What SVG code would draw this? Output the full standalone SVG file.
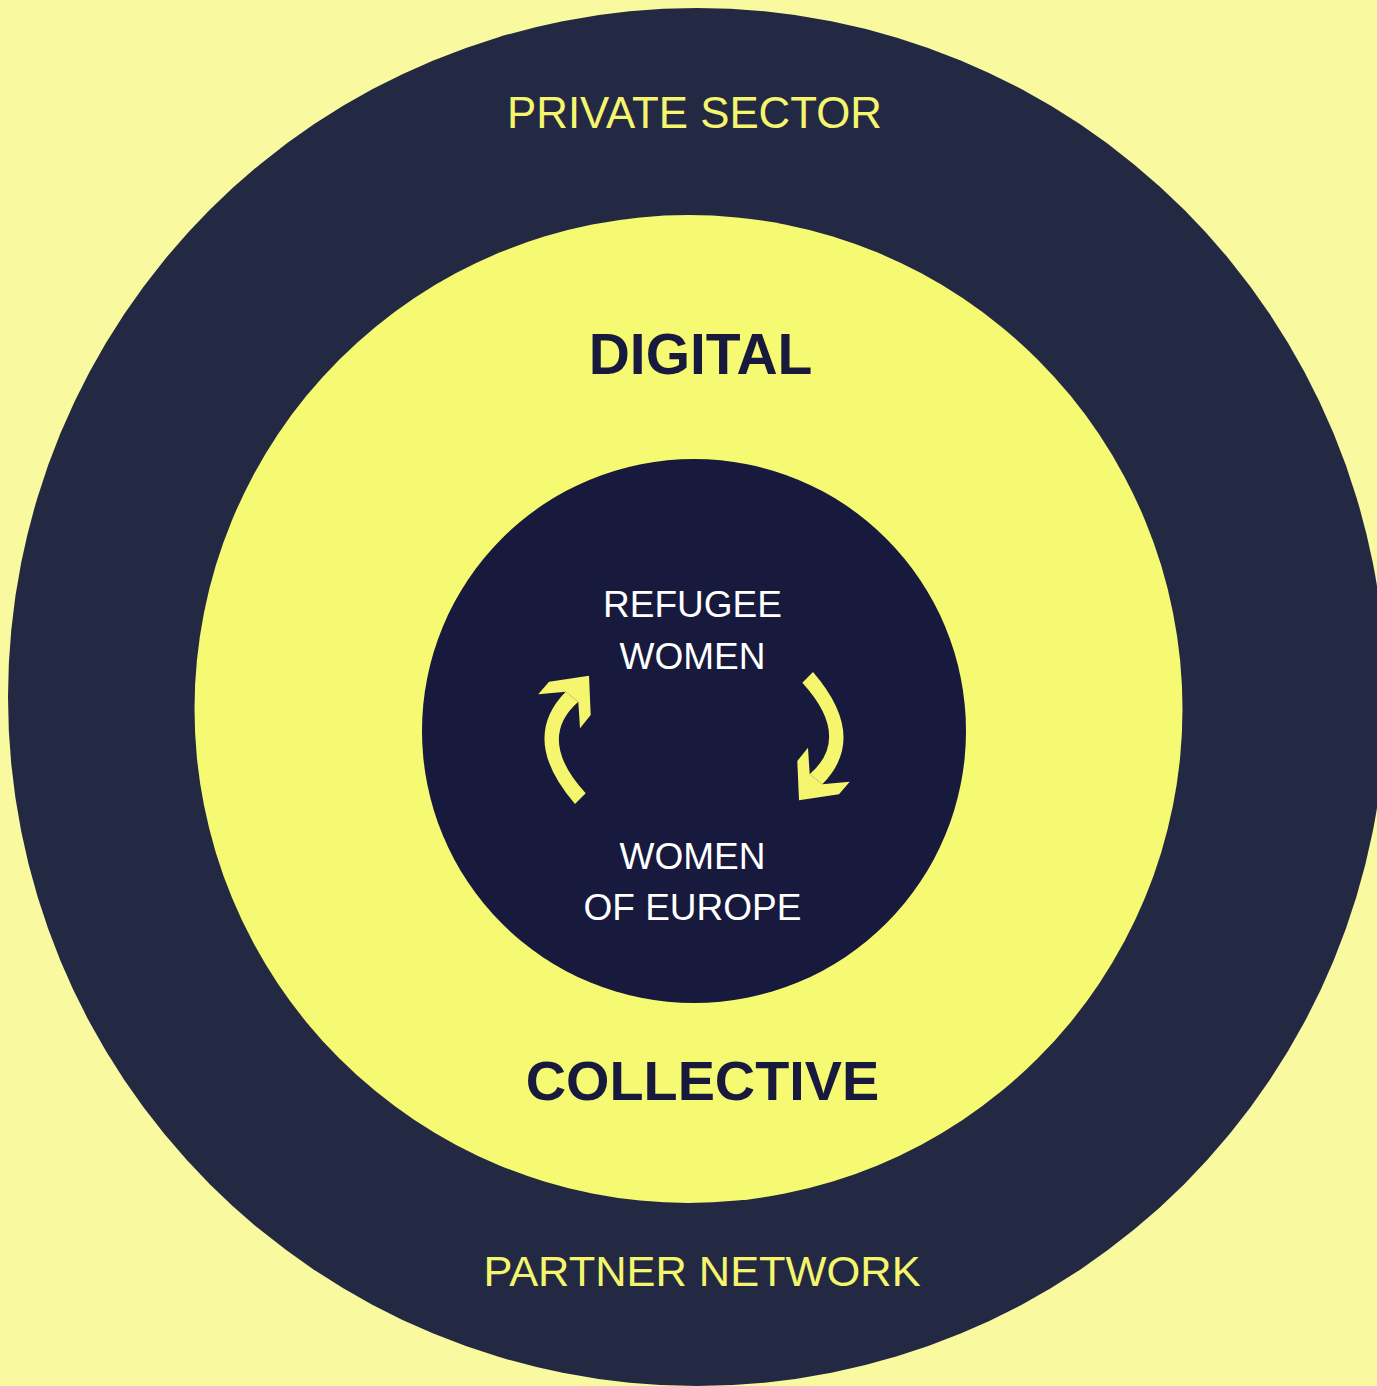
<svg xmlns="http://www.w3.org/2000/svg" xmlns:xlink="http://www.w3.org/1999/xlink" width="1377" height="1386" viewBox="0 0 1377 1386">
<style>
.ring-label{font-family:"Liberation Sans",Arial,sans-serif;fill:#F6F56E;text-anchor:middle}
.big{font-family:"Liberation Sans",Arial,sans-serif;font-weight:bold;fill:#171A3D;text-anchor:middle}
.core{font-family:"Liberation Sans",Arial,sans-serif;font-size:37px;fill:#FFFFFF;text-anchor:middle}
.arrow{fill:#F6F56E}
</style>
<defs>
<g id="curved-arrow">
<path class="arrow" d="M565.7,691.7 Q519,739 575,804 L585.7,793.3 Q536,739 578.3,701.7 Z"/>
<polygon class="arrow" points="538.3,694.3 549,681.7 589,675.7 590.7,715 580,728.3 578.3,701.7 565.7,691.7"/>
</g>
</defs>
<rect id="background" x="0" y="0" width="1377" height="1386" fill="#F9F9A0"/>
<g id="private-sector">
<circle cx="697" cy="697" r="689" fill="#242943"/>
<text class="ring-label" x="694.5" y="128" font-size="43.8">PRIVATE SECTOR</text>
<text class="ring-label" x="702" y="1286" font-size="43.4">PARTNER NETWORK</text>
</g>
<g id="digital-collective">
<circle cx="688.5" cy="709" r="494" fill="#F6F972"/>
<text class="big" x="700.5" y="374" font-size="57">DIGITAL</text>
<text class="big" x="702.5" y="1100" font-size="55.8">COLLECTIVE</text>
</g>
<g id="core">
<circle cx="694" cy="731" r="272" fill="#171A3D"/>
<text class="core" x="692.5" y="617">REFUGEE</text>
<text class="core" x="692.5" y="669">WOMEN</text>
<text class="core" x="692.5" y="869">WOMEN</text>
<text class="core" x="692.5" y="920">OF EUROPE</text>
</g>
<g id="connectors">
<use xlink:href="#curved-arrow"/>
<use xlink:href="#curved-arrow" transform="rotate(180 694 738)"/>
</g>
</svg>
